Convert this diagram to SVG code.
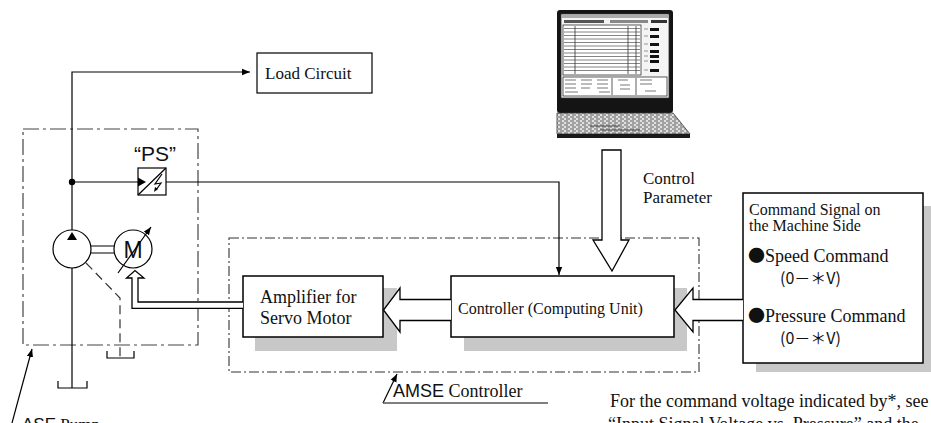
<svg xmlns="http://www.w3.org/2000/svg" width="931" height="423" viewBox="0 0 931 423">
<defs>
<marker id="ah" viewBox="0 0 10 10" refX="10" refY="5" markerWidth="8" markerHeight="8" markerUnits="userSpaceOnUse" orient="auto">
<path d="M0,1 L10,5 L0,9 Z" fill="#000"/>
</marker>
<pattern id="kb" width="6" height="4" patternUnits="userSpaceOnUse">
<rect width="6" height="4" fill="#e0e0e0"/>
<path d="M0,1 H4 M2,3 H6" stroke="#444" stroke-width="0.8"/>
</pattern>
<style>
.ln{fill:none;stroke:#000;stroke-width:1.2}
.box{fill:#fff;stroke:#000;stroke-width:1.5}
.sh{fill:#c8c8c8}
.hol{fill:#fff;stroke:#000;stroke-width:1.3;stroke-linejoin:miter}
.pumpbox{fill:none;stroke:#444;stroke-width:1.2;stroke-dasharray:16 4 3 4}
.amsebox{fill:none;stroke:#333;stroke-width:1.1;stroke-dasharray:10 3 2 3}
.dash{fill:none;stroke:#333;stroke-width:1.2;stroke-dasharray:9 5}
.serif{font-family:"Liberation Serif","Times New Roman",serif;fill:#111}
.sans{font-family:"Liberation Sans",Arial,sans-serif;fill:#111}
.cjk{font-family:"Noto Sans CJK JP","Liberation Sans",sans-serif;fill:#111}
</style>
</defs>
<rect width="931" height="423" fill="#fff"/>

<g id="ase-pump">
<rect class="pumpbox" x="23" y="129" width="175" height="216"/>
<circle cx="72" cy="249" r="19" fill="#fff" stroke="#000" stroke-width="1.2"/>
<path d="M72,232 L77,240 L67,240 Z" fill="#000"/>
<path class="ln" d="M91,246 H114 M91,253 H114"/>
<circle cx="133" cy="249" r="19" fill="#fff" stroke="#000" stroke-width="1.2"/>
<text class="sans" x="133" y="258" font-size="23" text-anchor="middle">M</text>
<line class="ln" x1="118" y1="273" x2="151" y2="227" marker-end="url(#ah)"/>
<path class="ln" d="M58,381 V388 H87 V381"/>
<path class="ln" d="M107,351 V358 H134 V351"/>
<path class="dash" d="M86,263 L120,298 V358"/>
</g>

<g id="ps-sensor">
<rect x="138" y="168" width="28" height="27" fill="#fff" stroke="#000" stroke-width="1.2"/>
<line class="ln" x1="138" y1="195" x2="166" y2="168"/>
<path d="M138,177.5 L146,182 L138,186.5 Z" fill="#000"/>
<path class="ln" stroke-width="1" d="M162,174 L155,184 L161,183 L156,190"/>
<path d="M154,192 L155,187 L158,189 Z" fill="#000"/>
<text class="sans" x="155" y="161" font-size="21" text-anchor="middle">“PS”</text>
</g>

<g id="load-circuit">
<rect x="257" y="53" width="115" height="40" fill="#fff" stroke="#000" stroke-width="1.2"/>
<text class="serif" x="265" y="79" font-size="17">Load Circuit</text>
</g>

<g id="laptop">
<rect x="557" y="10" width="116" height="103" rx="3" fill="#141414"/>
<rect x="561" y="14" width="108" height="84" fill="#f4f4f4" stroke="#333" stroke-width="0.8"/>
<rect x="562" y="15" width="106" height="3" fill="#aaa"/>
<rect x="564" y="20" width="40" height="3" fill="#555"/>
<rect x="610" y="20" width="38" height="3" fill="#888"/>
<rect x="651" y="20" width="16" height="3" fill="#333"/>
<rect x="563" y="25" width="78" height="50" fill="#fff" stroke="#333" stroke-width="0.8"/>
<g stroke="#666" stroke-width="0.8">
<path d="M564,28.5 H640 M564,32 H640 M564,35.5 H640 M564,39 H640 M564,42.5 H640 M564,46 H640 M564,49.5 H640 M564,53 H640 M564,56.5 H640 M564,60 H640 M564,63.5 H640 M564,67 H640 M564,70.5 H640"/>
<path d="M575,26 V74 M628,26 V74 M636,26 V74" stroke="#333"/>
</g>
<g fill="#111">
<rect x="650" y="28" width="9" height="3"/><rect x="650" y="35" width="9" height="3"/><rect x="650" y="43" width="9" height="3"/><rect x="650" y="50" width="9" height="3"/><rect x="650" y="55" width="9" height="3"/><rect x="650" y="60" width="9" height="3"/><rect x="650" y="69" width="9" height="3"/>
</g>
<g stroke="#555" stroke-width="0.6">
<path d="M644,29 H648 M644,36 H648 M644,44 H648 M644,51 H648 M644,56 H648 M644,61 H648 M644,70 H648"/>
</g>
<rect x="563" y="77" width="104" height="19" fill="#fff" stroke="#333" stroke-width="0.8"/>
<g stroke="#555" stroke-width="0.8">
<path d="M565,80 H576 M565,84 H576 M565,88 H576 M565,92 H578 M581,80 H592 M581,84 H592 M581,88 H590 M597,80 H608 M597,84 H608 M597,88 H608 M599,92 H610 M618,80 H628 M620,85 H630 M620,89 H630 M640,80 H652 M640,84 H652 M645,91 H656"/>
<path d="M612,78 V95 M636,78 V95" stroke="#333"/>
</g>
<polygon points="557,113 673,113 690,134 557,134" fill="url(#kb)" stroke="#333" stroke-width="0.8"/>
<rect x="557" y="134" width="133" height="4" fill="#1a1a1a"/>
<path d="M590,126 H620 M600,130 H640" stroke="#333" stroke-width="0.8"/>
</g>

<g id="amse-controller">
<rect class="amsebox" x="229" y="238" width="470" height="134"/>
</g>

<g id="amplifier">
<rect class="sh" x="255" y="288" width="142" height="63"/>
<rect class="box" x="243" y="276" width="140" height="61"/>
<text class="serif" x="260" y="303" font-size="18">Amplifier for</text>
<text class="serif" x="260" y="324" font-size="18">Servo Motor</text>
</g>

<g id="controller">
<rect class="sh" x="464" y="288" width="223" height="63"/>
<rect class="box" x="451" y="276" width="223" height="61"/>
<text class="serif" x="458" y="314" font-size="16">Controller (Computing Unit)</text>
</g>

<g id="command-signal">
<rect class="sh" x="756" y="206" width="180" height="166"/>
<rect class="box" x="743" y="193" width="180" height="170"/>
<text class="serif" x="749" y="215" font-size="16">Command Signal on</text>
<text class="serif" x="749" y="231" font-size="16">the Machine Side</text>
<text class="serif" x="748" y="262" font-size="18"><tspan class="cjk" font-size="17">●</tspan>Speed Command</text>
<text class="cjk" x="780" y="284" font-size="16">(0－＊V)</text>
<text class="serif" x="748" y="322" font-size="18"><tspan class="cjk" font-size="17">●</tspan>Pressure Command</text>
<text class="cjk" x="780" y="344" font-size="16">(0－＊V)</text>
</g>

<g id="connectors">
<path class="ln" d="M72,230 V72 H250" marker-end="url(#ah)"/>
<path class="ln" d="M72,268 V388"/>
<circle cx="72" cy="182" r="3.2" fill="#000"/>
<path class="ln" d="M72,182 H139"/>
<path class="ln" stroke-width="1.5" d="M166,182 H559 V275" marker-end="url(#ah)"/>
<path class="hol" fill="none" d="M243,302 H138 V278 H144 L135,270.5 L126.5,278 H132 V308.3 H243"/>
<path class="hol" d="M451,299.5 H400 V288 L383.5,310 L400,332 V320.5 H451"/>
<path class="hol" d="M743,299.5 H693 V288 L675,310 L693,332 V320.5 H743"/>
<path class="hol" d="M602,150 H621 V240 H629 L612,271 L593,240 H602 Z"/>
<line class="ln" x1="12" y1="423" x2="32" y2="349" marker-end="url(#ah)"/>
<line class="ln" x1="383" y1="403" x2="397" y2="374" marker-end="url(#ah)"/>
<line x1="383" y1="403" x2="548" y2="403" stroke="#555" stroke-width="1.5"/>
</g>

<g id="labels">
<text class="serif" x="643" y="184" font-size="17">Control</text>
<text class="serif" x="643" y="203" font-size="17">Parameter</text>
<text x="393" y="397" font-size="18"><tspan class="sans">AMSE</tspan><tspan class="serif"> Controller</tspan></text>
<text x="22" y="430" font-size="17"><tspan class="sans">ASE</tspan><tspan class="serif"> Pump</tspan></text>
<text class="serif" x="610" y="407" font-size="18">For the command voltage indicated by*, see</text>
<text class="serif" x="608" y="430" font-size="18">“Input Signal Voltage vs. Pressure” and the</text>
</g>
</svg>
